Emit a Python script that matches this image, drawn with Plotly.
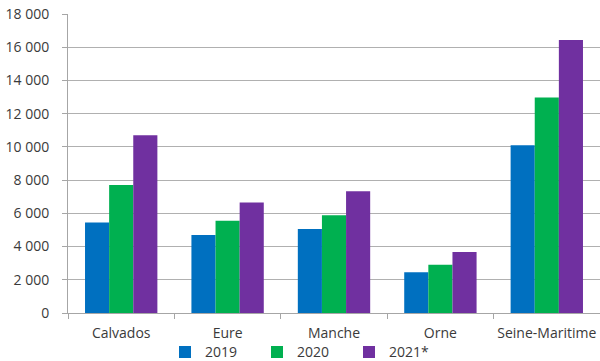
import plotly.graph_objects as go

departements = ["Calvados", "Eure", "Manche", "Orne", "Seine-Maritime"]
v2019 = [5450, 4700, 5050, 2450, 10100]
v2020 = [7700, 5550, 5880, 2900, 12970]
v2021 = [10700, 6650, 7330, 3670, 16430]
series_names = ["2019", "2020", "2021*"]
colors = ["#0070C0", "#00B050", "#7030A0"]

fig = go.Figure()
for name, vals, col in zip(series_names, [v2019, v2020, v2021], colors):
    fig.add_trace(go.Bar(x=departements, y=vals, name=name,
                         marker=dict(color=col, line=dict(width=0))))

fig.update_layout(
    width=600, height=361,
    margin=dict(l=68, r=0, t=14, b=48, autoexpand=False),
    paper_bgcolor="white", plot_bgcolor="white",
    barmode="group", bargap=0.32, bargroupgap=0,
    separators=", ",
    font=dict(family="Open Sans", size=14, color="#3a3a3a"),
    showlegend=True,
    legend=dict(orientation="h", x=165 / 600, xref="container", xanchor="left",
                y=0.024, yref="container", yanchor="middle",
                entrywidth=47, entrywidthmode="pixels",
                bgcolor="rgba(0,0,0,0)",
                font=dict(size=14, color="#3a3a3a"), traceorder="normal"),
    xaxis=dict(showline=True, linecolor="#a6a6a6", linewidth=1,
               ticks="outside", tickson="boundaries", ticklen=5, tickcolor="#a6a6a6",
               ticklabelstandoff=7, tickangle=0,
               showgrid=False, tickfont=dict(size=14)),
    yaxis=dict(range=[0, 18000], dtick=2000, tickformat=",d",
               showline=True, linecolor="#a6a6a6", linewidth=1,
               ticks="outside", ticklen=5, tickcolor="#a6a6a6",
               ticklabelstandoff=10,
               showgrid=True, gridcolor="#b0b0b0", gridwidth=1.4,
               zeroline=False, tickfont=dict(size=14)),
)

fig.write_html("out.html")
